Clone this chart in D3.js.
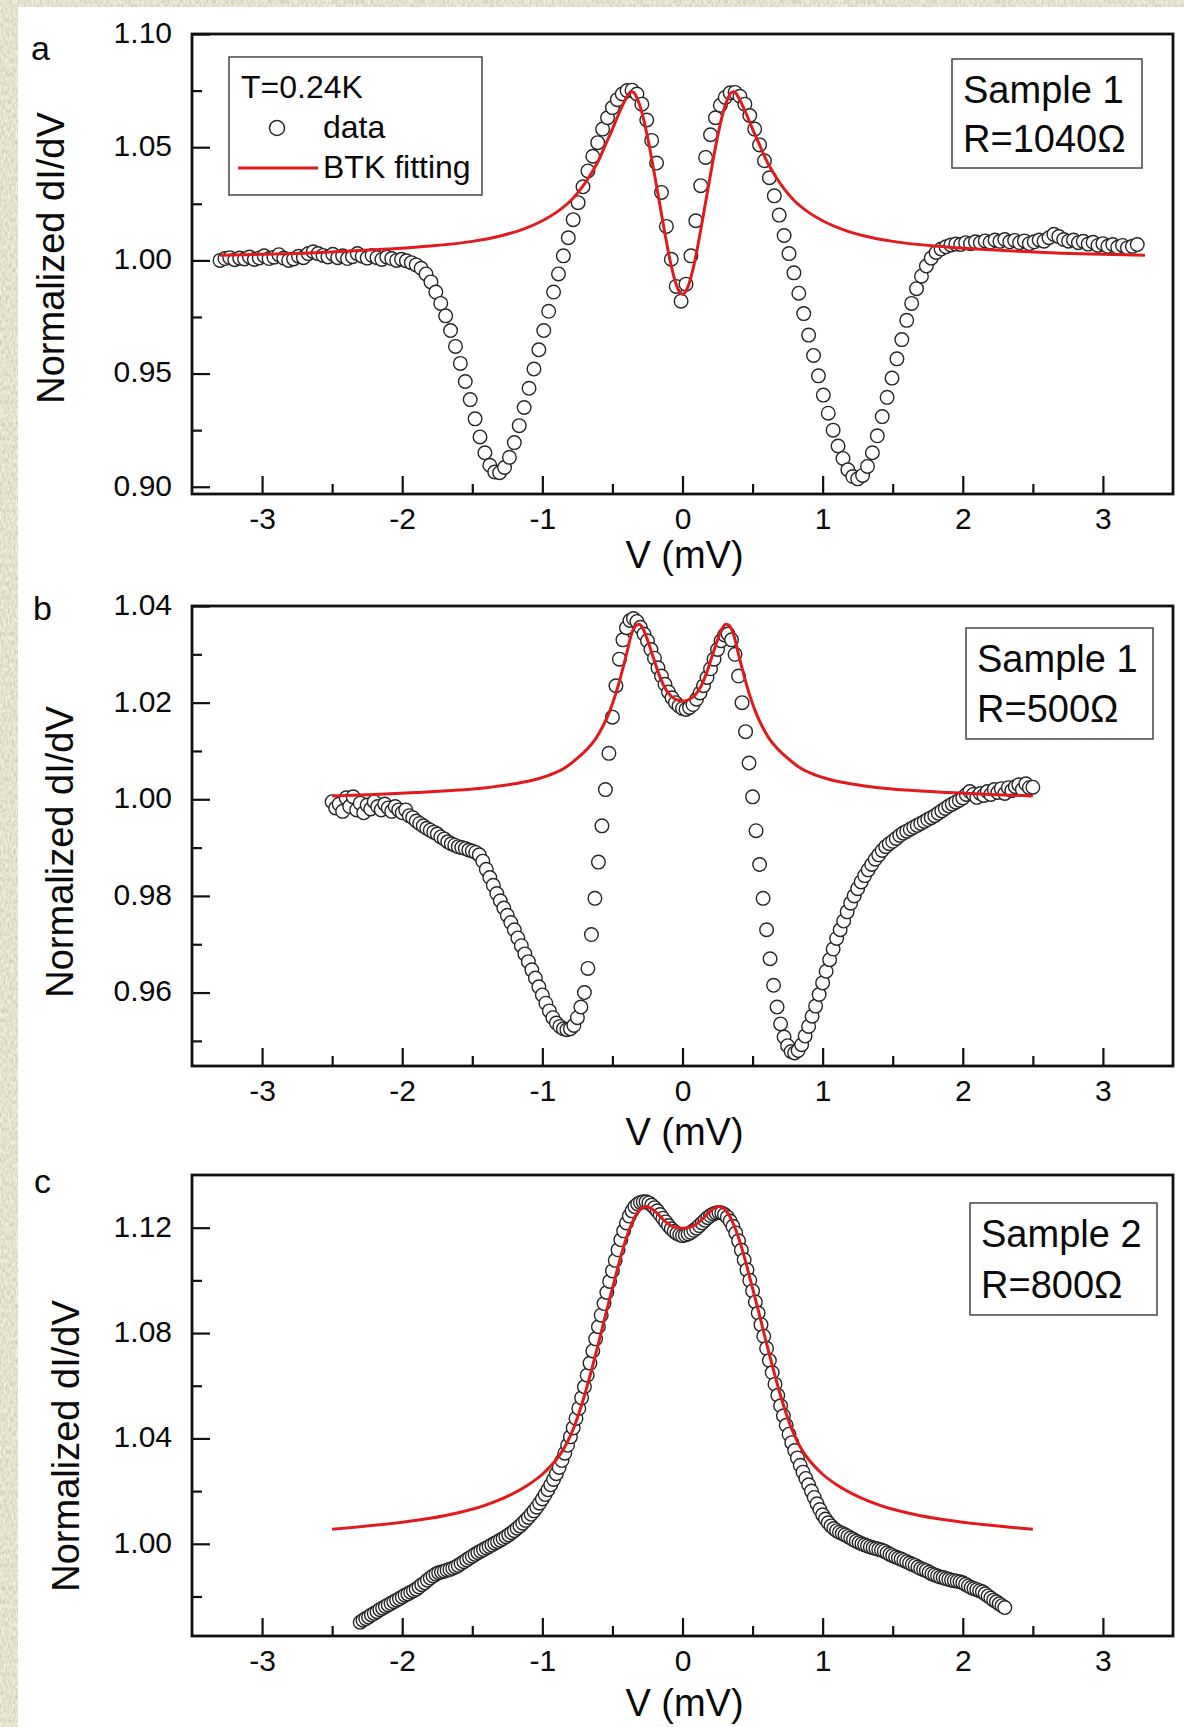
<!DOCTYPE html>
<html>
<head>
<meta charset="utf-8">
<script src="https://cdn.jsdelivr.net/npm/d3@7"></script>
<style>
body { margin: 0; background: #fff; }
svg text { font-family: "Liberation Sans", Arial, sans-serif; fill: #0a0a0a; }
</style>
</head>
<body>
<div id="chart"></div>
<script>
// ---- data: [V (mV), normalized dI/dV] ----
const dataA = [
[-3.300,1.0000],[-3.265,1.0008],[-3.230,1.0012],[-3.195,1.0003],[-3.160,1.0010],[-3.125,1.0006],[-3.090,1.0015],[-3.055,1.0004],
[-3.020,1.0011],[-2.985,1.0020],[-2.950,1.0008],[-2.915,1.0014],[-2.880,1.0025],[-2.845,1.0010],[-2.810,1.0000],[-2.775,1.0006],
[-2.740,1.0018],[-2.705,1.0012],[-2.670,1.0030],[-2.635,1.0038],[-2.600,1.0030],[-2.565,1.0022],[-2.530,1.0015],[-2.495,1.0027],
[-2.460,1.0012],[-2.425,1.0020],[-2.390,1.0008],[-2.355,1.0016],[-2.320,1.0030],[-2.285,1.0018],[-2.250,1.0010],[-2.215,1.0022],
[-2.180,1.0012],[-2.145,1.0004],[-2.110,1.0015],[-2.075,1.0008],[-2.040,1.0000],[-2.005,1.0005],[-1.970,0.9998],[-1.935,0.9990],
[-1.900,0.9980],[-1.865,0.9965],[-1.830,0.9940],[-1.795,0.9905],[-1.760,0.9860],[-1.725,0.9810],[-1.690,0.9755],[-1.655,0.9690],
[-1.620,0.9620],[-1.585,0.9545],[-1.550,0.9465],[-1.515,0.9385],[-1.480,0.9300],[-1.445,0.9220],[-1.410,0.9150],[-1.375,0.9095],
[-1.340,0.9065],[-1.305,0.9062],[-1.270,0.9085],[-1.235,0.9130],[-1.200,0.9195],[-1.165,0.9270],[-1.130,0.9350],[-1.095,0.9435],
[-1.060,0.9520],[-1.025,0.9605],[-0.990,0.9690],[-0.955,0.9775],[-0.920,0.9860],[-0.885,0.9940],[-0.850,1.0020],[-0.815,1.0100],
[-0.780,1.0180],[-0.745,1.0255],[-0.710,1.0325],[-0.675,1.0395],[-0.640,1.0460],[-0.605,1.0520],[-0.570,1.0580],[-0.535,1.0630],
[-0.500,1.0675],[-0.465,1.0710],[-0.430,1.0735],[-0.395,1.0750],[-0.360,1.0752],[-0.325,1.0735],[-0.290,1.0690],[-0.255,1.0620],
[-0.220,1.0530],[-0.185,1.0430],[-0.150,1.0300],[-0.115,1.0150],[-0.080,1.0005],[-0.045,0.9885],[-0.010,0.9820],[0.025,0.9895],
[0.060,1.0020],[0.095,1.0175],[0.130,1.0330],[0.165,1.0455],[0.200,1.0555],[0.235,1.0630],[0.270,1.0685],[0.305,1.0720],
[0.340,1.0740],[0.375,1.0742],[0.410,1.0725],[0.445,1.0690],[0.480,1.0640],[0.515,1.0580],[0.550,1.0510],[0.585,1.0440],
[0.620,1.0365],[0.655,1.0285],[0.690,1.0200],[0.725,1.0110],[0.760,1.0030],[0.795,0.9945],[0.830,0.9855],[0.865,0.9765],
[0.900,0.9670],[0.935,0.9580],[0.970,0.9490],[1.005,0.9405],[1.040,0.9325],[1.075,0.9250],[1.110,0.9180],[1.145,0.9125],
[1.180,0.9075],[1.215,0.9045],[1.250,0.9035],[1.285,0.9050],[1.320,0.9090],[1.355,0.9150],[1.390,0.9225],[1.425,0.9310],
[1.460,0.9395],[1.495,0.9480],[1.530,0.9565],[1.565,0.9650],[1.600,0.9735],[1.635,0.9810],[1.670,0.9875],[1.705,0.9930],
[1.740,0.9975],[1.775,1.0010],[1.810,1.0035],[1.845,1.0050],[1.880,1.0060],[1.915,1.0068],[1.950,1.0072],[1.985,1.0070],
[2.020,1.0078],[2.055,1.0074],[2.090,1.0082],[2.125,1.0078],[2.160,1.0086],[2.195,1.0080],[2.230,1.0090],[2.265,1.0084],
[2.300,1.0092],[2.335,1.0082],[2.370,1.0088],[2.405,1.0078],[2.440,1.0086],[2.475,1.0074],[2.510,1.0082],[2.545,1.0090],
[2.580,1.0085],[2.615,1.0100],[2.650,1.0115],[2.685,1.0105],[2.720,1.0092],[2.755,1.0085],[2.790,1.0090],[2.825,1.0078],
[2.860,1.0084],[2.895,1.0072],[2.930,1.0080],[2.965,1.0066],[3.000,1.0074],[3.035,1.0062],[3.070,1.0070],[3.105,1.0058],
[3.140,1.0066],[3.175,1.0055],[3.210,1.0062],[3.245,1.0070]
];

const fitA = [
[-3.30,1.0023],[-3.00,1.0027],[-2.70,1.0032],[-2.40,1.0040],[-2.10,1.0050],[-1.80,1.0063],[-1.50,1.0084],[-1.30,1.0108],
[-1.15,1.0135],[-1.00,1.0175],[-0.90,1.0212],[-0.80,1.0262],[-0.72,1.0320],[-0.66,1.0375],[-0.60,1.0440],[-0.55,1.0510],
[-0.50,1.0580],[-0.46,1.0640],[-0.42,1.0695],[-0.39,1.0730],[-0.37,1.0745],[-0.35,1.0742],[-0.32,1.0710],[-0.28,1.0630],
[-0.24,1.0515],[-0.20,1.0380],[-0.16,1.0240],[-0.12,1.0100],[-0.08,0.9975],[-0.04,0.9885],[0.00,0.9850],
[0.04,0.9885],[0.08,0.9975],[0.12,1.0100],[0.16,1.0240],[0.20,1.0380],[0.24,1.0515],[0.28,1.0630],[0.32,1.0710],
[0.35,1.0742],[0.37,1.0745],[0.39,1.0730],[0.42,1.0695],[0.46,1.0640],[0.50,1.0580],[0.55,1.0510],[0.60,1.0440],
[0.66,1.0375],[0.72,1.0320],[0.80,1.0262],[0.90,1.0212],[1.00,1.0175],[1.15,1.0135],[1.30,1.0108],[1.50,1.0084],
[1.80,1.0063],[2.10,1.0050],[2.40,1.0040],[2.70,1.0032],[3.00,1.0027],[3.30,1.0023]
];

const dataB = [
[-2.500,0.9995],[-2.475,0.9982],[-2.450,0.9990],[-2.425,0.9975],[-2.400,1.0003],[-2.375,0.9985],[-2.350,1.0005],[-2.325,0.9978],
[-2.300,0.9992],[-2.275,0.9972],[-2.250,0.9988],[-2.225,0.9980],[-2.200,0.9995],[-2.175,0.9985],[-2.150,0.9978],[-2.125,0.9990],
[-2.100,0.9982],[-2.075,0.9975],[-2.050,0.9985],[-2.025,0.9978],[-2.000,0.9972],[-1.975,0.9978],[-1.950,0.9966],[-1.925,0.9962],
[-1.900,0.9955],[-1.875,0.9950],[-1.850,0.9945],[-1.825,0.9940],[-1.800,0.9936],[-1.775,0.9932],[-1.750,0.9928],[-1.725,0.9922],
[-1.700,0.9918],[-1.675,0.9912],[-1.650,0.9908],[-1.625,0.9905],[-1.600,0.9902],[-1.575,0.9900],[-1.550,0.9898],[-1.525,0.9895],
[-1.500,0.9893],[-1.475,0.9890],[-1.450,0.9885],[-1.425,0.9872],[-1.400,0.9855],[-1.375,0.9838],[-1.350,0.9822],[-1.325,0.9805],
[-1.300,0.9790],[-1.275,0.9775],[-1.250,0.9760],[-1.225,0.9745],[-1.200,0.9730],[-1.175,0.9713],[-1.150,0.9697],[-1.125,0.9680],
[-1.100,0.9664],[-1.075,0.9647],[-1.050,0.9630],[-1.025,0.9612],[-1.000,0.9595],[-0.975,0.9578],[-0.950,0.9562],[-0.925,0.9548],
[-0.900,0.9537],[-0.875,0.9530],[-0.850,0.9525],[-0.825,0.9523],[-0.800,0.9525],[-0.775,0.9532],[-0.750,0.9548],[-0.725,0.9570],
[-0.700,0.9600],[-0.675,0.9650],[-0.650,0.9720],[-0.625,0.9795],[-0.600,0.9870],[-0.575,0.9945],[-0.550,1.0020],[-0.525,1.0095],
[-0.500,1.0170],[-0.475,1.0235],[-0.450,1.0290],[-0.425,1.0330],[-0.400,1.0355],[-0.375,1.0370],[-0.350,1.0374],[-0.325,1.0368],
[-0.300,1.0356],[-0.275,1.0342],[-0.250,1.0328],[-0.225,1.0310],[-0.200,1.0292],[-0.175,1.0272],[-0.150,1.0255],[-0.125,1.0238],
[-0.100,1.0222],[-0.075,1.0210],[-0.050,1.0200],[-0.025,1.0193],[0.000,1.0188],[0.025,1.0186],[0.050,1.0190],[0.075,1.0196],
[0.100,1.0207],[0.125,1.0220],[0.150,1.0235],[0.175,1.0252],[0.200,1.0270],[0.225,1.0290],[0.250,1.0310],[0.275,1.0328],
[0.300,1.0340],[0.325,1.0342],[0.350,1.0330],[0.375,1.0300],[0.400,1.0255],[0.425,1.0200],[0.450,1.0140],[0.475,1.0075],
[0.500,1.0005],[0.525,0.9935],[0.550,0.9865],[0.575,0.9795],[0.600,0.9730],[0.625,0.9670],[0.650,0.9615],[0.675,0.9570],
[0.700,0.9535],[0.725,0.9508],[0.750,0.9490],[0.775,0.9478],[0.800,0.9475],[0.825,0.9480],[0.850,0.9492],[0.875,0.9510],
[0.900,0.9530],[0.925,0.9551],[0.950,0.9572],[0.975,0.9596],[1.000,0.9620],[1.025,0.9644],[1.050,0.9668],[1.075,0.9690],
[1.100,0.9712],[1.125,0.9730],[1.150,0.9748],[1.175,0.9767],[1.200,0.9785],[1.225,0.9800],[1.250,0.9815],[1.275,0.9829],
[1.300,0.9842],[1.325,0.9854],[1.350,0.9865],[1.375,0.9876],[1.400,0.9885],[1.425,0.9894],[1.450,0.9902],[1.475,0.9908],
[1.500,0.9913],[1.525,0.9919],[1.550,0.9925],[1.575,0.9930],[1.600,0.9934],[1.625,0.9938],[1.650,0.9942],[1.675,0.9946],
[1.700,0.9950],[1.725,0.9954],[1.750,0.9958],[1.775,0.9962],[1.800,0.9966],[1.825,0.9971],[1.850,0.9976],[1.875,0.9981],
[1.900,0.9986],[1.925,0.9990],[1.950,0.9994],[1.975,0.9998],[2.000,1.0003],[2.025,1.0010],[2.050,1.0016],[2.075,1.0010],
[2.100,1.0004],[2.125,1.0012],[2.150,1.0008],[2.175,1.0016],[2.200,1.0010],[2.225,1.0020],[2.250,1.0014],[2.275,1.0022],
[2.300,1.0012],[2.325,1.0024],[2.350,1.0018],[2.375,1.0026],[2.400,1.0030],[2.425,1.0020],[2.450,1.0032],[2.475,1.0024],
[2.500,1.0025]
];

const fitB = [
[-2.50,1.0007],[-2.20,1.0010],[-1.90,1.0014],[-1.60,1.0019],[-1.40,1.0024],[-1.20,1.0032],[-1.05,1.0041],[-0.95,1.0050],
[-0.85,1.0063],[-0.75,1.0085],[-0.68,1.0104],[-0.62,1.0125],[-0.57,1.0150],[-0.52,1.0182],[-0.48,1.0215],[-0.44,1.0255],
[-0.40,1.0300],[-0.36,1.0345],[-0.33,1.0360],[-0.31,1.0362],[-0.28,1.0352],[-0.25,1.0330],[-0.21,1.0295],[-0.17,1.0260],
[-0.13,1.0233],[-0.09,1.0216],[-0.05,1.0207],[0.00,1.0203],
[0.05,1.0207],[0.09,1.0216],[0.13,1.0233],[0.17,1.0260],[0.21,1.0295],[0.25,1.0330],[0.28,1.0352],[0.31,1.0362],
[0.33,1.0360],[0.36,1.0345],[0.40,1.0300],[0.44,1.0255],[0.48,1.0215],[0.52,1.0182],[0.57,1.0150],[0.62,1.0125],
[0.68,1.0104],[0.75,1.0085],[0.85,1.0063],[0.95,1.0050],[1.05,1.0041],[1.20,1.0032],[1.40,1.0024],[1.60,1.0019],
[1.90,1.0014],[2.20,1.0010],[2.50,1.0007]
];

const dataC = [
[-2.30,0.9702],[-2.28,0.9710],[-2.26,0.9716],[-2.24,0.9722],[-2.22,0.9730],[-2.20,0.9736],[-2.18,0.9742],[-2.16,0.9750],
[-2.14,0.9756],[-2.12,0.9762],[-2.10,0.9768],[-2.08,0.9774],[-2.06,0.9780],[-2.04,0.9786],[-2.02,0.9792],[-2.00,0.9798],
[-1.98,0.9805],[-1.96,0.9810],[-1.94,0.9816],[-1.92,0.9822],[-1.90,0.9828],[-1.88,0.9836],[-1.86,0.9845],[-1.84,0.9852],
[-1.82,0.9862],[-1.80,0.9870],[-1.78,0.9878],[-1.76,0.9885],[-1.74,0.9890],[-1.72,0.9893],[-1.70,0.9896],[-1.68,0.9900],
[-1.66,0.9903],[-1.64,0.9907],[-1.62,0.9912],[-1.60,0.9918],[-1.58,0.9925],[-1.56,0.9932],[-1.54,0.9939],[-1.52,0.9946],
[-1.50,0.9953],[-1.48,0.9960],[-1.46,0.9966],[-1.44,0.9972],[-1.42,0.9978],[-1.40,0.9984],[-1.38,0.9990],[-1.36,0.9996],
[-1.34,1.0002],[-1.32,1.0008],[-1.30,1.0014],[-1.28,1.0020],[-1.26,1.0027],[-1.24,1.0034],[-1.22,1.0042],[-1.20,1.0050],
[-1.18,1.0059],[-1.16,1.0068],[-1.14,1.0078],[-1.12,1.0089],[-1.10,1.0100],[-1.08,1.0112],[-1.06,1.0125],[-1.04,1.0139],
[-1.02,1.0154],[-1.00,1.0170],[-0.98,1.0187],[-0.96,1.0205],[-0.94,1.0224],[-0.92,1.0244],[-0.90,1.0266],[-0.88,1.0290],
[-0.86,1.0316],[-0.84,1.0344],[-0.82,1.0374],[-0.80,1.0406],[-0.78,1.0440],[-0.76,1.0476],[-0.74,1.0514],[-0.72,1.0554],
[-0.70,1.0596],[-0.68,1.0640],[-0.66,1.0686],[-0.64,1.0732],[-0.62,1.0778],[-0.60,1.0824],[-0.58,1.0868],[-0.56,1.0912],
[-0.54,1.0954],[-0.52,1.0996],[-0.50,1.1036],[-0.48,1.1076],[-0.46,1.1116],[-0.44,1.1154],[-0.42,1.1188],[-0.40,1.1218],
[-0.38,1.1244],[-0.36,1.1264],[-0.34,1.1280],[-0.32,1.1290],[-0.30,1.1296],[-0.28,1.1298],[-0.26,1.1298],[-0.24,1.1294],
[-0.22,1.1286],[-0.20,1.1276],[-0.18,1.1264],[-0.16,1.1250],[-0.14,1.1236],[-0.12,1.1222],[-0.10,1.1208],[-0.08,1.1196],
[-0.06,1.1186],[-0.04,1.1178],[-0.02,1.1173],[0.00,1.1170],[0.02,1.1172],[0.04,1.1176],[0.06,1.1182],[0.08,1.1190],
[0.10,1.1198],[0.12,1.1208],[0.14,1.1218],[0.16,1.1228],[0.18,1.1238],[0.20,1.1246],[0.22,1.1252],[0.24,1.1256],
[0.26,1.1258],[0.28,1.1256],[0.30,1.1250],[0.32,1.1240],[0.34,1.1225],[0.36,1.1205],[0.38,1.1180],[0.40,1.1150],
[0.42,1.1115],[0.44,1.1078],[0.46,1.1040],[0.48,1.1000],[0.50,1.0960],[0.52,1.0918],[0.54,1.0876],[0.56,1.0832],
[0.58,1.0788],[0.60,1.0742],[0.62,1.0696],[0.64,1.0650],[0.66,1.0606],[0.68,1.0564],[0.70,1.0524],[0.72,1.0486],
[0.74,1.0450],[0.76,1.0416],[0.78,1.0384],[0.80,1.0354],[0.82,1.0326],[0.84,1.0298],[0.86,1.0272],[0.88,1.0248],
[0.90,1.0224],[0.92,1.0200],[0.94,1.0176],[0.96,1.0152],[0.98,1.0130],[1.00,1.0110],[1.02,1.0094],[1.04,1.0080],
[1.06,1.0068],[1.08,1.0058],[1.10,1.0050],[1.12,1.0044],[1.14,1.0039],[1.16,1.0034],[1.18,1.0028],[1.20,1.0022],
[1.22,1.0016],[1.24,1.0010],[1.26,1.0005],[1.28,1.0000],[1.30,0.9996],[1.32,0.9992],[1.34,0.9988],[1.36,0.9985],
[1.38,0.9982],[1.40,0.9979],[1.42,0.9976],[1.44,0.9972],[1.46,0.9966],[1.48,0.9960],[1.50,0.9955],[1.52,0.9950],
[1.54,0.9946],[1.56,0.9942],[1.58,0.9937],[1.60,0.9932],[1.62,0.9927],[1.64,0.9922],[1.66,0.9918],[1.68,0.9912],
[1.70,0.9906],[1.72,0.9902],[1.74,0.9898],[1.76,0.9892],[1.78,0.9886],[1.80,0.9882],[1.82,0.9878],[1.84,0.9874],
[1.86,0.9872],[1.88,0.9868],[1.90,0.9865],[1.92,0.9862],[1.94,0.9860],[1.96,0.9858],[1.98,0.9856],[2.00,0.9852],
[2.02,0.9846],[2.04,0.9840],[2.06,0.9834],[2.08,0.9830],[2.10,0.9826],[2.12,0.9822],[2.14,0.9818],[2.16,0.9810],
[2.18,0.9802],[2.20,0.9794],[2.22,0.9786],[2.24,0.9780],[2.26,0.9772],[2.28,0.9765],[2.30,0.9758]
];

const fitC = [
[-2.50,1.0055],[-2.20,1.0070],[-2.00,1.0082],[-1.80,1.0097],[-1.60,1.0118],[-1.40,1.0148],[-1.25,1.0180],[-1.10,1.0224],
[-1.00,1.0264],[-0.95,1.0290],[-0.90,1.0320],[-0.86,1.0350],[-0.82,1.0388],[-0.78,1.0435],[-0.74,1.0494],[-0.70,1.0562],
[-0.66,1.0638],[-0.62,1.0718],[-0.58,1.0803],[-0.54,1.0888],[-0.50,1.0970],[-0.46,1.1052],[-0.42,1.1128],[-0.38,1.1192],
[-0.35,1.1230],[-0.32,1.1258],[-0.29,1.1275],[-0.26,1.1280],[-0.22,1.1272],[-0.18,1.1254],[-0.14,1.1232],[-0.10,1.1214],
[-0.06,1.1203],[0.00,1.1198],
[0.06,1.1203],[0.10,1.1214],[0.14,1.1232],[0.18,1.1254],[0.22,1.1272],[0.26,1.1280],[0.29,1.1275],[0.32,1.1258],
[0.35,1.1230],[0.38,1.1192],[0.42,1.1128],[0.46,1.1052],[0.50,1.0970],[0.54,1.0888],[0.58,1.0803],[0.62,1.0718],
[0.66,1.0638],[0.70,1.0562],[0.74,1.0494],[0.78,1.0435],[0.82,1.0388],[0.86,1.0350],[0.90,1.0320],[0.95,1.0290],
[1.00,1.0264],[1.10,1.0224],[1.25,1.0180],[1.40,1.0148],[1.60,1.0118],[1.80,1.0097],[2.00,1.0082],[2.20,1.0070],
[2.50,1.0055]
];

// axis ticks
const xTicks = [-3, -2, -1, 0, 1, 2, 3];
const xMinorTicks = [-2.5, -1.5, -0.5, 0.5, 1.5, 2.5];
const yTicksA = [0.90, 0.95, 1.00, 1.05, 1.10];
const yMinorA = [0.925, 0.975, 1.025, 1.075];
const yTicksB = [0.96, 0.98, 1.00, 1.02, 1.04];
const yMinorB = [0.95, 0.97, 0.99, 1.01, 1.03];
const yTicksC = [1.00, 1.04, 1.08, 1.12];
const yMinorC = [0.98, 1.02, 1.06, 1.10];

const W = 1184, H = 1727;
const plotLeft = 192, plotRight = 1173;
const RED = "#e21a1c";

const svg = d3.select("#chart").append("svg")
    .attr("width", W)
    .attr("height", H);

// textured paper border behind the white figure
const defs = svg.append("defs");
const paper = defs.append("filter").attr("id", "paper")
    .attr("x", 0).attr("y", 0).attr("width", "100%").attr("height", "100%");
paper.append("feTurbulence")
    .attr("type", "fractalNoise")
    .attr("baseFrequency", "0.5 0.22")
    .attr("numOctaves", 3)
    .attr("seed", 7);
paper.append("feColorMatrix")
    .attr("type", "matrix")
    .attr("values", "0.5 0 0 0 0.52  0.5 0 0 0 0.51  0.42 0 0 0 0.40  0 0 0 0 1");
svg.append("rect").attr("width", W).attr("height", H).attr("filter", "url(#paper)");
svg.append("rect").attr("x", 18).attr("y", 7).attr("width", W - 18).attr("height", H - 7).attr("fill", "#fff");

const x = d3.scaleLinear().domain([-3.5, 3.5]).range([plotLeft, plotRight]);

function drawPanel(p) {
    const y = d3.scaleLinear().domain(p.yDomain).range([p.bottom, p.top]);
    const g = svg.append("g");

    // frame
    g.append("rect")
        .attr("x", plotLeft).attr("y", p.top)
        .attr("width", plotRight - plotLeft).attr("height", p.bottom - p.top)
        .attr("fill", "none").attr("stroke", "#111").attr("stroke-width", 2.8);

    // x axis (ticks point inward)
    const xa = g.append("g").attr("transform", `translate(0,${p.bottom})`)
        .call(d3.axisBottom(x).tickValues(xTicks).tickSizeInner(-18).tickSizeOuter(0)
            .tickPadding(14).tickFormat(d => String(d)));
    g.append("g").attr("transform", `translate(0,${p.bottom})`)
        .call(d3.axisBottom(x).tickValues(xMinorTicks).tickSizeInner(-10).tickSizeOuter(0).tickFormat(""))
        .call(s => s.select(".domain").remove());

    // y axis
    const ya = g.append("g").attr("transform", `translate(${plotLeft},0)`)
        .call(d3.axisLeft(y).tickValues(p.yTicks).tickSizeInner(-18).tickSizeOuter(0)
            .tickPadding(20).tickFormat(d3.format(".2f")));
    g.append("g").attr("transform", `translate(${plotLeft},0)`)
        .call(d3.axisLeft(y).tickValues(p.yMinor).tickSizeInner(-10).tickSizeOuter(0).tickFormat(""))
        .call(s => s.select(".domain").remove());

    [xa, ya].forEach(a => {
        a.select(".domain").remove();
        a.selectAll("text").style("font-size", "30px");
    });
    ya.selectAll("text").attr("dy", "0.28em");
    g.selectAll(".tick line").attr("stroke", "#111").attr("stroke-width", 2.2);

    // measured points
    g.append("g").selectAll("circle")
        .data(p.data)
        .join("circle")
        .attr("cx", d => x(d[0]))
        .attr("cy", d => y(d[1]))
        .attr("r", 6.8)
        .attr("fill", "#fff")
        .attr("stroke", "#262626")
        .attr("stroke-width", 1.4);

    // BTK fitting
    const line = d3.line()
        .x(d => x(d[0]))
        .y(d => y(d[1]))
        .curve(d3.curveMonotoneX);
    g.append("path")
        .datum(p.fit)
        .attr("d", line)
        .attr("fill", "none")
        .attr("stroke", RED)
        .attr("stroke-width", 3);

    // axis titles and panel letter
    g.append("text")
        .attr("x", x(0) + 2).attr("y", p.xTitleY)
        .attr("text-anchor", "middle")
        .style("font-size", "38px")
        .text("V (mV)");
    g.append("text")
        .attr("transform", `translate(${p.yTitleX},${p.yTitleY}) rotate(-90)`)
        .attr("text-anchor", "middle")
        .style("font-size", "38px")
        .text("Normalized dI/dV");
    g.append("text")
        .attr("x", p.letter[0]).attr("y", p.letter[1])
        .style("font-size", "34px")
        .text(p.label);

    // sample box
    g.append("rect")
        .attr("x", p.box[0]).attr("y", p.box[1])
        .attr("width", p.box[2]).attr("height", p.box[3])
        .attr("fill", "#fff").attr("stroke", "#444").attr("stroke-width", 1.5);
    p.boxText.forEach((t, i) => {
        g.append("text")
            .attr("x", p.box[0] + 11).attr("y", p.boxBase[i])
            .style("font-size", "38px")
            .text(t);
    });
    return { g, y };
}

const panelA = drawPanel({
    label: "a", data: dataA, fit: fitA,
    top: 34, bottom: 494, yDomain: [0.8968, 1.10], yTicks: yTicksA, yMinor: yMinorA,
    xTitleY: 568, yTitleX: 64, yTitleY: 258, letter: [31, 60],
    box: [952, 59, 190, 109], boxText: ["Sample 1", "R=1040\u03A9"], boxBase: [103, 152]
});
drawPanel({
    label: "b", data: dataB, fit: fitB,
    top: 606, bottom: 1066, yDomain: [0.9448, 1.04], yTicks: yTicksB, yMinor: yMinorB,
    xTitleY: 1145, yTitleX: 73, yTitleY: 852, letter: [33, 620],
    box: [966, 628, 187, 111], boxText: ["Sample 1", "R=500\u03A9"], boxBase: [672, 722]
});
drawPanel({
    label: "c", data: dataC, fit: fitC,
    top: 1175, bottom: 1636, yDomain: [0.965, 1.14], yTicks: yTicksC, yMinor: yMinorC,
    xTitleY: 1716, yTitleX: 79, yTitleY: 1446, letter: [34, 1193],
    box: [970, 1203, 187, 112], boxText: ["Sample 2", "R=800\u03A9"], boxBase: [1247, 1298]
});

// legend of panel a
const leg = panelA.g.append("g");
leg.append("rect")
    .attr("x", 229).attr("y", 57).attr("width", 253).attr("height", 138)
    .attr("fill", "#fff").attr("stroke", "#444").attr("stroke-width", 1.5);
leg.append("text").attr("x", 241).attr("y", 98).style("font-size", "32px").text("T=0.24K");
leg.append("circle").attr("cx", 277).attr("cy", 128).attr("r", 7.5)
    .attr("fill", "#fff").attr("stroke", "#262626").attr("stroke-width", 1.5);
leg.append("text").attr("x", 323).attr("y", 138).style("font-size", "32px").text("data");
leg.append("line").attr("x1", 238).attr("x2", 318).attr("y1", 168).attr("y2", 168)
    .attr("stroke", RED).attr("stroke-width", 3);
leg.append("text").attr("x", 323).attr("y", 178).style("font-size", "32px").text("BTK fitting");
</script>
